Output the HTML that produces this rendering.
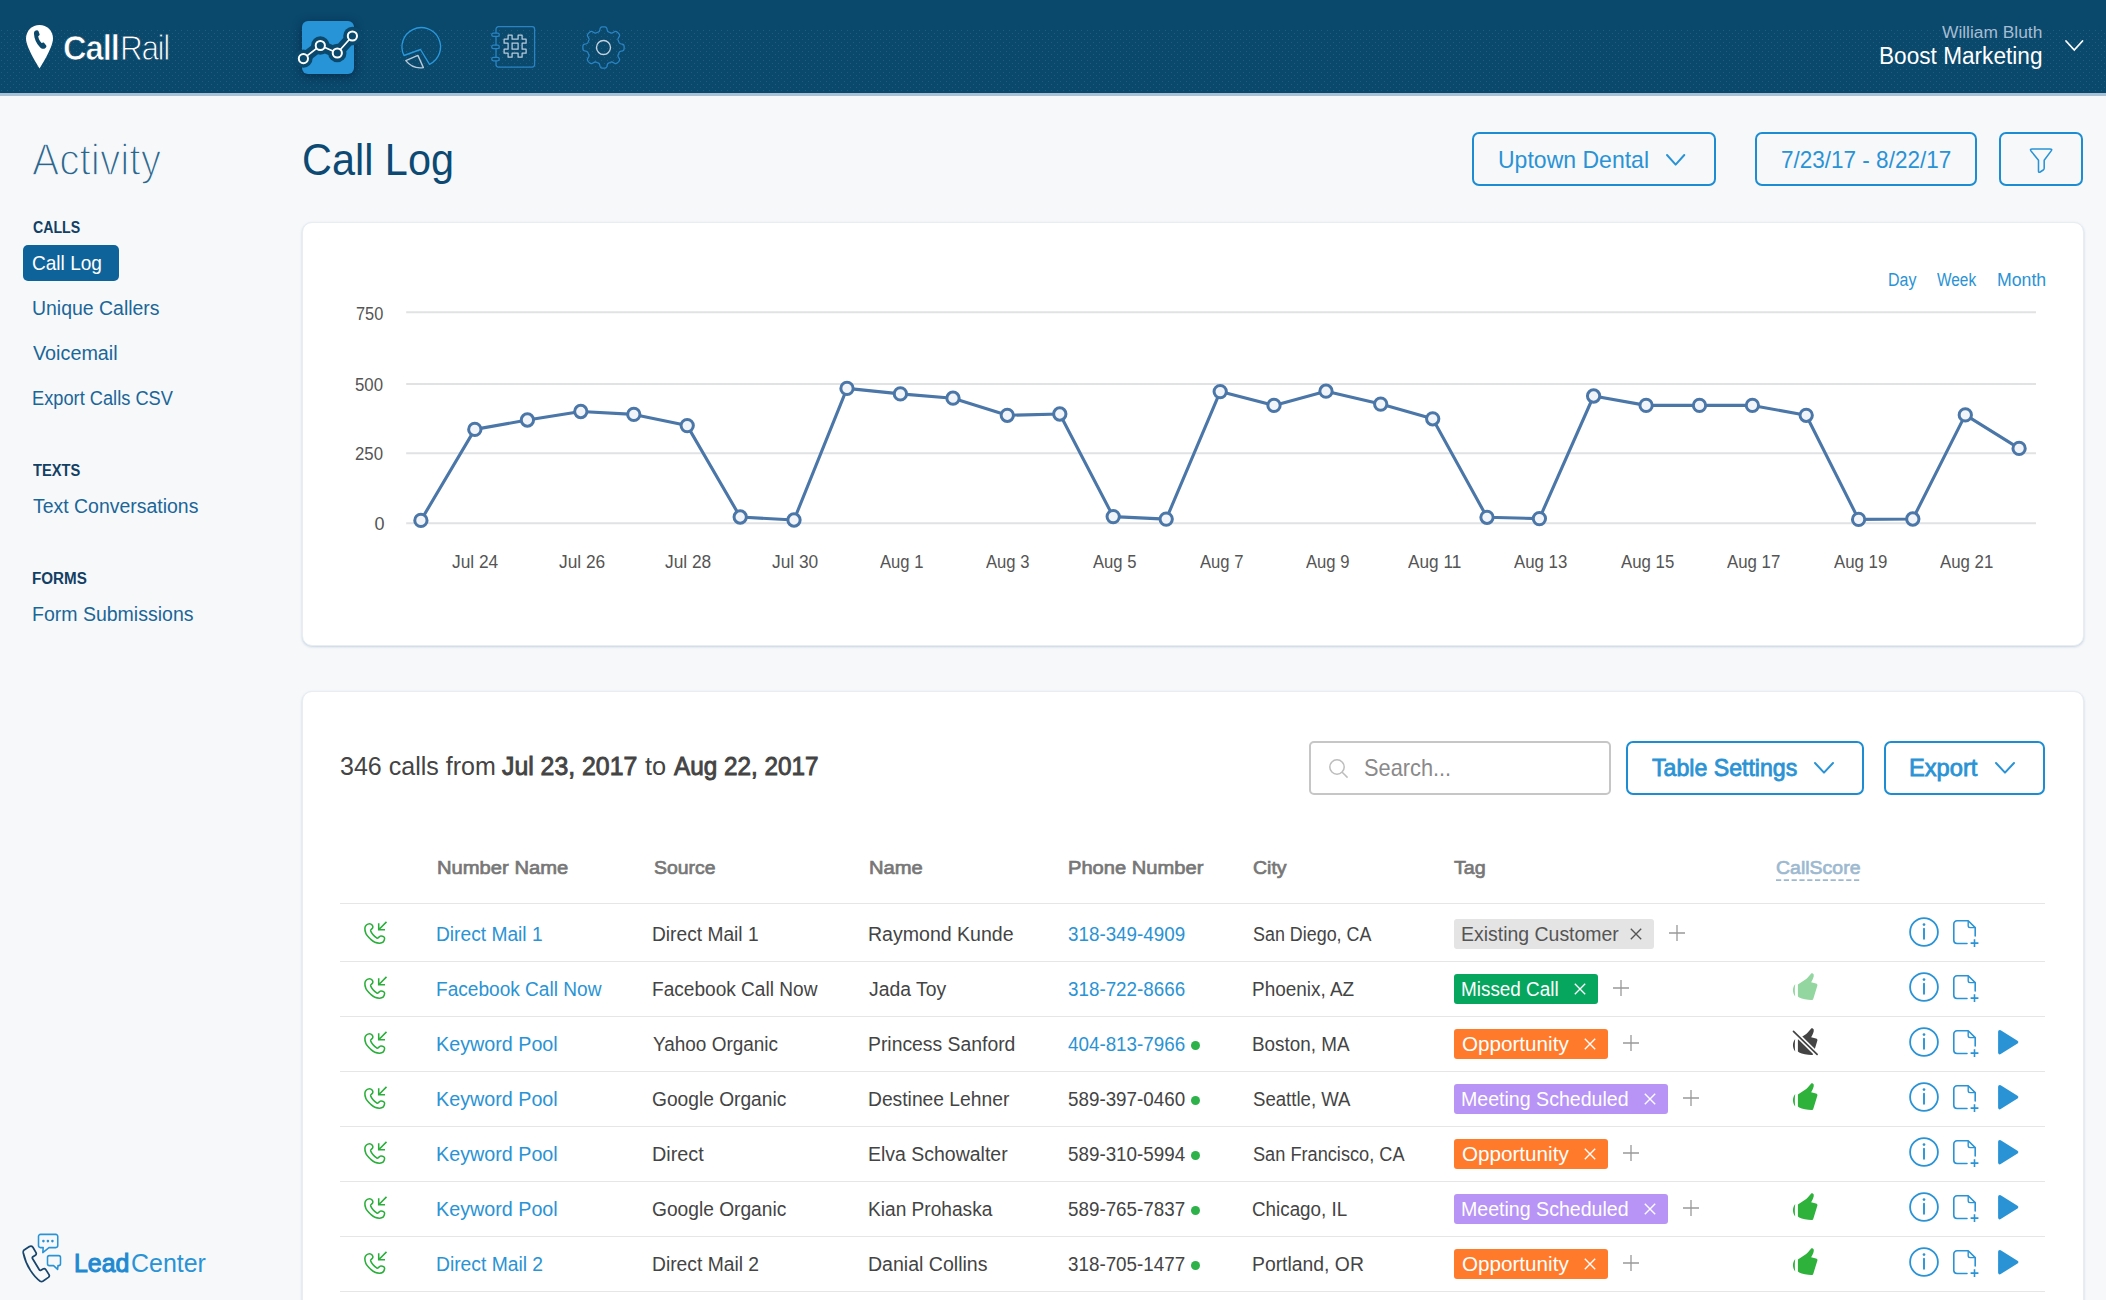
<!DOCTYPE html>
<html lang="en"><head><meta charset="utf-8"><title>Call Log - CallRail</title>
<style>
*{box-sizing:border-box}
html,body{margin:0;padding:0}
body{width:2106px;height:1300px;overflow:hidden;background:#f7f8fa;font-family:"Liberation Sans",sans-serif;color:#444;position:relative}
.t{position:absolute;white-space:nowrap;line-height:1;display:block;transform-origin:0 0}
.abs{position:absolute}
header{position:absolute;left:0;top:0;width:2106px;height:96px;background:#0a486c;border-bottom:3px solid #a9c1d4}
.tex{position:absolute;left:0;top:29px;width:2106px;height:64px;background:radial-gradient(circle at 1.5px 1.5px,rgba(160,200,230,.15) .3px,transparent .95px) 0 0/6px 6px,radial-gradient(circle at 1.5px 1.5px,rgba(160,200,230,.15) .3px,transparent .95px) 3px 3px/6px 6px}
aside{position:absolute;left:0;top:96px;width:290px;height:1204px}
main{position:absolute;left:0;top:0;width:2106px;height:1300px}
.card{position:absolute;background:#fff;border:1px solid #e7edf2;border-radius:10px;box-shadow:0 1px 2.5px rgba(125,160,190,.42)}
.btn{position:absolute;border:2px solid #1d8dd3;border-radius:7px;height:54px}
.pill{position:absolute;left:23px;top:245px;width:96px;height:36px;background:#0f639b;border-radius:5px}
.lk{color:#2a93d5} .sd{color:#1b6698} .sh{color:#123f63;font-weight:700} .th{color:#777}
.ax{color:#555}
.row{position:absolute;left:37px;width:1705px;height:55px;border-top:1px solid #e6e6e6}
.tag{position:absolute;height:30px;border-radius:3px}
.dot{position:absolute;width:9px;height:9px;border-radius:50%;background:#2db24a}
svg{position:absolute;overflow:visible}
</style></head>
<body>
<header>
<div class="tex"></div><svg style="left:26px;top:24.7px" width="27" height="44" viewBox="0 0 27 44" ><path d="M13.5,0C6,0 0,5.8 0,13.6C0,23 13.5,43.5 13.5,43.5C13.5,43.5 27,23 27,13.6C27,5.8 21,0 13.5,0Z" fill="#fff"/><path d="M9.2,5.8C10.4,4.8 12,5 12.4,6L13.6,9.2C13.8,10 13.2,10.6 12.2,11.2C12.6,13.8 13.8,16.2 15.6,18C16.6,17.4 17.6,17.2 18.2,17.9L20.2,20.4C20.8,21.4 20.2,22.6 18.8,23.4C17.2,24.3 15.4,23.6 14,22.2C10.4,18.6 8.2,13.6 8,9C7.9,7.6 8.3,6.5 9.2,5.8Z" fill="#0a486c"/></svg>
<span class="t" style="left:62.7px;top:31.0px;font-size:34.5px;letter-spacing:-1.09px;transform:scaleX(0.9459);font-weight:700;color:#fff;-webkit-text-stroke:0.7px #0a486c;">Call</span>
<span class="t" style="left:120.4px;top:31.0px;font-size:34.5px;letter-spacing:-1.54px;transform:scaleX(0.9171);color:#fff;-webkit-text-stroke:1.0px #0a486c;">Rail</span>
<div class="abs" style="left:302px;top:21px;width:52px;height:53px;border-radius:6px;background:#2794d7;box-shadow:0 2px 10px rgba(0,22,45,.55)"></div><svg style="left:0px;top:0px" width="700" height="96" viewBox="0 0 700 96" ><polyline points="303.4,58.6 320.3,45.5 337.3,53 352.4,36" fill="none" stroke="#0a486c" stroke-width="11" stroke-linecap="round" stroke-linejoin="round"/><circle cx="303.4" cy="58.6" r="9.2" fill="#0a486c"/><circle cx="320.3" cy="45.5" r="9.2" fill="#0a486c"/><circle cx="337.3" cy="53" r="9.2" fill="#0a486c"/><circle cx="352.4" cy="36" r="9.2" fill="#0a486c"/><polyline points="303.4,58.6 320.3,45.5 337.3,53 352.4,36" fill="none" stroke="#fff" stroke-width="1.7"/><circle cx="303.4" cy="58.6" r="4.6" fill="#0a486c" stroke="#fff" stroke-width="2"/><circle cx="320.3" cy="45.5" r="4.6" fill="#0a486c" stroke="#fff" stroke-width="2"/><circle cx="337.3" cy="53" r="4.6" fill="#0a486c" stroke="#fff" stroke-width="2"/><circle cx="352.4" cy="36" r="4.6" fill="#0a486c" stroke="#fff" stroke-width="2"/></svg><svg style="left:401px;top:27.3px" width="42" height="44" viewBox="0 0 42 44" ><path d="M19.5,22.5 L3,28.5 A19.3,19.3 0 1 1 28.5,37.3 Z" fill="none" stroke="#2a98dc" stroke-width="1.35" stroke-linejoin="round"/><path d="M16.9,28.4 L22.4,40.6 A19,19 0 0 1 4.8,33.6 Z" fill="none" stroke="#b9cbdb" stroke-width="1.35" stroke-linejoin="round"/></svg><svg style="left:491px;top:26.3px" width="45" height="43" viewBox="0 0 45 43" ><rect x="5" y="0.7" width="38.6" height="40.4" rx="2.5" fill="none" stroke="#2a84c4" stroke-width="1.3"/><rect x="0.7" y="7.0" width="7.6" height="3.4" rx="1.7" fill="#0a486c" stroke="#2a84c4" stroke-width="1.25"/><rect x="0.7" y="19.2" width="7.6" height="3.4" rx="1.7" fill="#0a486c" stroke="#2a84c4" stroke-width="1.25"/><rect x="0.7" y="31.4" width="7.6" height="3.4" rx="1.7" fill="#0a486c" stroke="#2a84c4" stroke-width="1.25"/><path d="M16.5,10.5h4v4h6v-4h4v4h4v4h-4v6h4v4h-4v4h-4v-4h-6v4h-4v-4h-4v-4h4v-6h-4v-4h4z M20.5,18.5v6h6v-6z" fill="none" stroke="#b9cbdb" stroke-width="1.25" stroke-linejoin="round" transform="translate(0.6,-1.3)"/></svg><svg style="left:581.9px;top:26px" width="43" height="43" viewBox="0 0 43 43" ><polygon points="21.50,0.85 22.04,0.86 22.58,0.90 23.12,0.97 23.64,1.10 24.15,1.35 24.61,1.87 24.97,2.78 25.23,3.93 25.50,4.85 25.82,5.39 26.18,5.70 26.57,5.90 26.96,6.07 27.36,6.23 27.76,6.39 28.15,6.56 28.55,6.73 28.95,6.89 29.37,7.01 29.84,7.06 30.45,6.90 31.28,6.44 32.28,5.81 33.18,5.42 33.87,5.38 34.41,5.56 34.88,5.84 35.31,6.17 35.71,6.52 36.10,6.90 36.48,7.29 36.83,7.69 37.16,8.12 37.44,8.59 37.62,9.13 37.58,9.82 37.19,10.72 36.56,11.72 36.10,12.55 35.94,13.16 35.99,13.63 36.11,14.05 36.27,14.45 36.44,14.85 36.61,15.24 36.77,15.64 36.93,16.04 37.10,16.43 37.30,16.82 37.61,17.18 38.15,17.50 39.07,17.77 40.22,18.03 41.13,18.39 41.65,18.85 41.90,19.36 42.03,19.88 42.10,20.42 42.14,20.96 42.15,21.50 42.14,22.04 42.10,22.58 42.03,23.12 41.90,23.64 41.65,24.15 41.13,24.61 40.22,24.97 39.07,25.23 38.15,25.50 37.61,25.82 37.30,26.18 37.10,26.57 36.93,26.96 36.77,27.36 36.61,27.76 36.44,28.15 36.27,28.55 36.11,28.95 35.99,29.37 35.94,29.84 36.10,30.45 36.56,31.28 37.19,32.28 37.58,33.18 37.62,33.87 37.44,34.41 37.16,34.88 36.83,35.31 36.48,35.71 36.10,36.10 35.71,36.48 35.31,36.83 34.88,37.16 34.41,37.44 33.87,37.62 33.18,37.58 32.28,37.19 31.28,36.56 30.45,36.10 29.84,35.94 29.37,35.99 28.95,36.11 28.55,36.27 28.15,36.44 27.76,36.61 27.36,36.77 26.96,36.93 26.57,37.10 26.18,37.30 25.82,37.61 25.50,38.15 25.23,39.07 24.97,40.22 24.61,41.13 24.15,41.65 23.64,41.90 23.12,42.03 22.58,42.10 22.04,42.14 21.50,42.15 20.96,42.14 20.42,42.10 19.88,42.03 19.36,41.90 18.85,41.65 18.39,41.13 18.03,40.22 17.77,39.07 17.50,38.15 17.18,37.61 16.82,37.30 16.43,37.10 16.04,36.93 15.64,36.77 15.24,36.61 14.85,36.44 14.45,36.27 14.05,36.11 13.63,35.99 13.16,35.94 12.55,36.10 11.72,36.56 10.72,37.19 9.82,37.58 9.13,37.62 8.59,37.44 8.12,37.16 7.69,36.83 7.29,36.48 6.90,36.10 6.52,35.71 6.17,35.31 5.84,34.88 5.56,34.41 5.38,33.87 5.42,33.18 5.81,32.28 6.44,31.28 6.90,30.45 7.06,29.84 7.01,29.37 6.89,28.95 6.73,28.55 6.56,28.15 6.39,27.76 6.23,27.36 6.07,26.96 5.90,26.57 5.70,26.18 5.39,25.82 4.85,25.50 3.93,25.23 2.78,24.97 1.87,24.61 1.35,24.15 1.10,23.64 0.97,23.12 0.90,22.58 0.86,22.04 0.85,21.50 0.86,20.96 0.90,20.42 0.97,19.88 1.10,19.36 1.35,18.85 1.87,18.39 2.78,18.03 3.93,17.77 4.85,17.50 5.39,17.18 5.70,16.82 5.90,16.43 6.07,16.04 6.23,15.64 6.39,15.24 6.56,14.85 6.73,14.45 6.89,14.05 7.01,13.63 7.06,13.16 6.90,12.55 6.44,11.72 5.81,10.72 5.42,9.82 5.38,9.13 5.56,8.59 5.84,8.12 6.17,7.69 6.52,7.29 6.90,6.90 7.29,6.52 7.69,6.17 8.12,5.84 8.59,5.56 9.13,5.38 9.82,5.42 10.72,5.81 11.72,6.44 12.55,6.90 13.16,7.06 13.63,7.01 14.05,6.89 14.45,6.73 14.85,6.56 15.24,6.39 15.64,6.23 16.04,6.07 16.43,5.90 16.82,5.70 17.18,5.39 17.50,4.85 17.77,3.93 18.03,2.78 18.39,1.87 18.85,1.35 19.36,1.10 19.88,0.97 20.42,0.90 20.96,0.86" fill="none" stroke="#2a84c4" stroke-width="1.3" stroke-linejoin="round"/><circle cx="21.5" cy="21.5" r="7" fill="none" stroke="#c3d2df" stroke-width="1.4"/></svg>
<span class="t" style="left:1941.9px;top:23.9px;font-size:17.3px;transform:scaleX(1.0045);color:#a5bdd2;">William Bluth</span>
<span class="t" style="left:1879.3px;top:44.8px;font-size:23px;transform:scaleX(0.9836);color:#fff;">Boost Marketing</span><svg style="left:2066px;top:41px" width="16.5" height="9" viewBox="0 0 16.5 9" ><polyline points="0,0 8.25,9 16.5,0" fill="none" stroke="#fff" stroke-width="1.8" stroke-linecap="round" stroke-linejoin="round"/></svg></header><aside>
<span class="t" style="left:31.6px;top:43.0px;font-size:43.6px;transform:scaleX(0.9344);color:#2b658c;-webkit-text-stroke:1.5px #f7f8fa;">Activity</span>
<span class="t sh" style="left:32.5px;top:123.3px;font-size:17.4px;transform:scaleX(0.8141);font-weight:700;">CALLS</span>
<div class="pill" style="top:149px"></div>
<span class="t" style="left:31.6px;top:157.0px;font-size:20.4px;transform:scaleX(0.9351);color:#fff;">Call Log</span>
<span class="t sd" style="left:31.7px;top:202.1px;font-size:20px;transform:scaleX(0.9726);">Unique Callers</span>
<span class="t sd" style="left:32.7px;top:246.8px;font-size:20px;transform:scaleX(0.9888);">Voicemail</span>
<span class="t sd" style="left:31.8px;top:291.8px;font-size:20px;transform:scaleX(0.9121);">Export Calls CSV</span>
<span class="t sh" style="left:32.7px;top:365.8px;font-size:17.4px;transform:scaleX(0.8441);font-weight:700;">TEXTS</span>
<span class="t sd" style="left:32.7px;top:399.9px;font-size:20px;transform:scaleX(0.9725);">Text Conversations</span>
<span class="t sh" style="left:31.8px;top:473.9px;font-size:17.4px;transform:scaleX(0.8742);font-weight:700;">FORMS</span>
<span class="t sd" style="left:31.7px;top:507.5px;font-size:20px;transform:scaleX(0.9751);">Form Submissions</span><svg style="left:22.1px;top:1137.2px" width="42" height="52" viewBox="0 0 42 52" ><path d="M1.75,17.3L7.4,13.6Q9.5,12.6 10.9,14.3L14,19.6Q14.8,21.3 13.4,22.2L10.9,23.8Q10,24.5 10.5,25.5L17.3,36.8Q17.9,37.8 18.9,37.3L21,36Q22.6,35.2 23.8,36.6L27,41.6Q27.9,43.2 26.4,44.4L20.8,48.2Q19.6,48.9 18.2,48.2C12,44 4,33 1.3,20Q1,18 1.75,17.3Z" fill="none" stroke="#17456d" stroke-width="1.75" stroke-linejoin="round"/><path d="M18.5,1.35H33.75A2,2 0 0 1 35.75,3.35V12.6A2,2 0 0 1 33.75,14.6H27L20.8,19.6L21.2,14.6H18.5A2,2 0 0 1 16.5,12.6V3.35A2,2 0 0 1 18.5,1.35Z" fill="none" stroke="#2a93d5" stroke-width="1.55" stroke-linejoin="round"/><circle cx="21.4" cy="8.1" r="1.3" fill="#2a93d5"/><circle cx="25.9" cy="8.1" r="1.3" fill="#2a93d5"/><circle cx="30.4" cy="8.1" r="1.3" fill="#2a93d5"/><path d="M27.3,22.6H36.7A1.8,1.8 0 0 1 38.5,24.4V30.8A1.8,1.8 0 0 1 36.7,32.6H36L35.6,36.4L31.6,32.6H27.3A1.8,1.8 0 0 1 25.5,30.8V24.4A1.8,1.8 0 0 1 27.3,22.6Z" fill="none" stroke="#2a93d5" stroke-width="1.55" stroke-linejoin="round"/></svg>
<span class="t" style="left:74.1px;top:1153.6px;font-size:26.4px;transform:scaleX(0.9413);color:#2089d1;-webkit-text-stroke:1.1px currentColor;">Lead</span>
<span class="t" style="left:130.7px;top:1153.6px;font-size:26.4px;transform:scaleX(0.9449);color:#2a93d5;">Center</span></aside><main><h1 style="margin:0;font-weight:400">
<span class="t" style="left:301.9px;top:137.5px;font-size:44.6px;transform:scaleX(0.9288);color:#0d4a73;">Call Log</span></h1>
<div class="btn" style="left:1472px;top:132px;width:244px"></div>
<span class="t lk" style="left:1497.6px;top:149.0px;font-size:23.6px;transform:scaleX(0.9757);">Uptown Dental</span><svg style="left:1666.5px;top:155px" width="17.3" height="9.6" viewBox="0 0 17.3 9.6" ><polyline points="0,0 8.65,9.6 17.3,0" fill="none" stroke="#2a93d5" stroke-width="2" stroke-linecap="round" stroke-linejoin="round"/></svg>
<div class="btn" style="left:1755px;top:132px;width:222px"></div>
<span class="t lk" style="left:1780.6px;top:149.0px;font-size:23.6px;transform:scaleX(0.9541);">7/23/17 - 8/22/17</span>
<div class="btn" style="left:1999px;top:132px;width:84px"></div><svg style="left:2029.5px;top:148px" width="22.2" height="25.5" viewBox="0 0 22.2 25.5" ><path d="M2.2,1H20Q22.6,1 21.2,2.9L14.2,12.2V20.2Q14.2,21.3 13.2,22L10.2,24Q8.5,24.9 8.5,23.2V12.2L1,2.9Q-0.4,1 2.2,1Z" fill="none" stroke="#2a93d5" stroke-width="1.55" stroke-linejoin="round"/></svg>
<section class="card" style="left:302px;top:222px;width:1782px;height:424px">
<span class="t lk" style="left:1585.4px;top:48.0px;font-size:18px;transform:scaleX(0.8868);">Day</span>
<span class="t lk" style="left:1633.9px;top:48.0px;font-size:18px;transform:scaleX(0.8568);">Week</span>
<span class="t lk" style="left:1693.7px;top:48.0px;font-size:18px;transform:scaleX(0.9830);">Month</span><svg style="left:0px;top:0px" width="1779" height="422" viewBox="0 0 1779 422" ><line x1="103.19999999999999" x2="1733" y1="89.2" y2="89.2" stroke="#e1e2e3" stroke-width="2"/><line x1="103.19999999999999" x2="1733" y1="161.0" y2="161.0" stroke="#e1e2e3" stroke-width="2"/><line x1="103.19999999999999" x2="1733" y1="230.2" y2="230.2" stroke="#e1e2e3" stroke-width="2"/><line x1="103.19999999999999" x2="1733" y1="300.2" y2="300.2" stroke="#e1e2e3" stroke-width="2"/><polyline points="117.9,297.4 171.8,206.4 224.4,197.0 277.8,188.5 330.8,191.4 384.2,202.6 437.2,294.0 491.0,297.0 544.0,165.4 597.4,170.9 650.0,175.2 704.3,192.3 756.8,191.0 810.2,293.6 863.2,296.1 917.2,168.6 971.0,182.4 1023.0,168.2 1077.7,181.1 1129.7,195.8 1184.0,294.3 1236.4,295.6 1290.6,173.0 1343.1,182.4 1396.5,182.4 1449.4,182.4 1503.2,192.3 1555.6,296.4 1609.8,296.0 1662.3,191.9 1716.1,225.4" fill="none" stroke="#4a76a8" stroke-width="3.1" stroke-linejoin="round" stroke-linecap="round"/><circle cx="117.9" cy="297.4" r="6.15" fill="#f1f4f8" stroke="#4a76a8" stroke-width="3"/><circle cx="171.8" cy="206.4" r="6.15" fill="#f1f4f8" stroke="#4a76a8" stroke-width="3"/><circle cx="224.4" cy="197.0" r="6.15" fill="#f1f4f8" stroke="#4a76a8" stroke-width="3"/><circle cx="277.8" cy="188.5" r="6.15" fill="#f1f4f8" stroke="#4a76a8" stroke-width="3"/><circle cx="330.8" cy="191.4" r="6.15" fill="#f1f4f8" stroke="#4a76a8" stroke-width="3"/><circle cx="384.2" cy="202.6" r="6.15" fill="#f1f4f8" stroke="#4a76a8" stroke-width="3"/><circle cx="437.2" cy="294.0" r="6.15" fill="#f1f4f8" stroke="#4a76a8" stroke-width="3"/><circle cx="491.0" cy="297.0" r="6.15" fill="#f1f4f8" stroke="#4a76a8" stroke-width="3"/><circle cx="544.0" cy="165.4" r="6.15" fill="#f1f4f8" stroke="#4a76a8" stroke-width="3"/><circle cx="597.4" cy="170.9" r="6.15" fill="#f1f4f8" stroke="#4a76a8" stroke-width="3"/><circle cx="650.0" cy="175.2" r="6.15" fill="#f1f4f8" stroke="#4a76a8" stroke-width="3"/><circle cx="704.3" cy="192.3" r="6.15" fill="#f1f4f8" stroke="#4a76a8" stroke-width="3"/><circle cx="756.8" cy="191.0" r="6.15" fill="#f1f4f8" stroke="#4a76a8" stroke-width="3"/><circle cx="810.2" cy="293.6" r="6.15" fill="#f1f4f8" stroke="#4a76a8" stroke-width="3"/><circle cx="863.2" cy="296.1" r="6.15" fill="#f1f4f8" stroke="#4a76a8" stroke-width="3"/><circle cx="917.2" cy="168.6" r="6.15" fill="#f1f4f8" stroke="#4a76a8" stroke-width="3"/><circle cx="971.0" cy="182.4" r="6.15" fill="#f1f4f8" stroke="#4a76a8" stroke-width="3"/><circle cx="1023.0" cy="168.2" r="6.15" fill="#f1f4f8" stroke="#4a76a8" stroke-width="3"/><circle cx="1077.7" cy="181.1" r="6.15" fill="#f1f4f8" stroke="#4a76a8" stroke-width="3"/><circle cx="1129.7" cy="195.8" r="6.15" fill="#f1f4f8" stroke="#4a76a8" stroke-width="3"/><circle cx="1184.0" cy="294.3" r="6.15" fill="#f1f4f8" stroke="#4a76a8" stroke-width="3"/><circle cx="1236.4" cy="295.6" r="6.15" fill="#f1f4f8" stroke="#4a76a8" stroke-width="3"/><circle cx="1290.6" cy="173.0" r="6.15" fill="#f1f4f8" stroke="#4a76a8" stroke-width="3"/><circle cx="1343.1" cy="182.4" r="6.15" fill="#f1f4f8" stroke="#4a76a8" stroke-width="3"/><circle cx="1396.5" cy="182.4" r="6.15" fill="#f1f4f8" stroke="#4a76a8" stroke-width="3"/><circle cx="1449.4" cy="182.4" r="6.15" fill="#f1f4f8" stroke="#4a76a8" stroke-width="3"/><circle cx="1503.2" cy="192.3" r="6.15" fill="#f1f4f8" stroke="#4a76a8" stroke-width="3"/><circle cx="1555.6" cy="296.4" r="6.15" fill="#f1f4f8" stroke="#4a76a8" stroke-width="3"/><circle cx="1609.8" cy="296.0" r="6.15" fill="#f1f4f8" stroke="#4a76a8" stroke-width="3"/><circle cx="1662.3" cy="191.9" r="6.15" fill="#f1f4f8" stroke="#4a76a8" stroke-width="3"/><circle cx="1716.1" cy="225.4" r="6.15" fill="#f1f4f8" stroke="#4a76a8" stroke-width="3"/></svg>
<span class="t ax" style="left:52.8px;top:82.0px;font-size:18px;transform:scaleX(0.9077);">750</span>
<span class="t ax" style="left:52.0px;top:152.6px;font-size:18px;transform:scaleX(0.9327);">500</span>
<span class="t ax" style="left:52.0px;top:222.0px;font-size:18px;transform:scaleX(0.9327);">250</span>
<span class="t ax" style="left:71.5px;top:291.5px;font-size:18px;">0</span>
<span class="t ax" style="left:149.3px;top:330.0px;font-size:18px;transform:scaleX(0.9631);">Jul 24</span>
<span class="t ax" style="left:255.8px;top:330.0px;font-size:18px;transform:scaleX(0.9631);">Jul 26</span>
<span class="t ax" style="left:362.4px;top:330.0px;font-size:18px;transform:scaleX(0.9631);">Jul 28</span>
<span class="t ax" style="left:468.9px;top:330.0px;font-size:18px;transform:scaleX(0.9631);">Jul 30</span>
<span class="t ax" style="left:576.8px;top:330.0px;font-size:18px;transform:scaleX(0.9250);">Aug 1</span>
<span class="t ax" style="left:683.4px;top:330.0px;font-size:18px;transform:scaleX(0.9250);">Aug 3</span>
<span class="t ax" style="left:789.9px;top:330.0px;font-size:18px;transform:scaleX(0.9250);">Aug 5</span>
<span class="t ax" style="left:896.5px;top:330.0px;font-size:18px;transform:scaleX(0.9250);">Aug 7</span>
<span class="t ax" style="left:1003.0px;top:330.0px;font-size:18px;transform:scaleX(0.9250);">Aug 9</span>
<span class="t ax" style="left:1104.7px;top:330.0px;font-size:18px;transform:scaleX(0.9569);">Aug 11</span>
<span class="t ax" style="left:1211.2px;top:330.0px;font-size:18px;transform:scaleX(0.9344);">Aug 13</span>
<span class="t ax" style="left:1317.8px;top:330.0px;font-size:18px;transform:scaleX(0.9344);">Aug 15</span>
<span class="t ax" style="left:1424.3px;top:330.0px;font-size:18px;transform:scaleX(0.9344);">Aug 17</span>
<span class="t ax" style="left:1530.9px;top:330.0px;font-size:18px;transform:scaleX(0.9344);">Aug 19</span>
<span class="t ax" style="left:1637.4px;top:330.0px;font-size:18px;transform:scaleX(0.9344);">Aug 21</span></section>
<section class="card" style="left:302px;top:691px;width:1782px;height:640px">
<div class="abs" style="left:0;top:0">
<span class="t" style="left:37.1px;top:61.0px;font-size:26px;transform:scaleX(0.9633);">346 calls from</span>
<span class="t" style="left:199.2px;top:61.0px;font-size:26px;transform:scaleX(0.9546);-webkit-text-stroke:0.9px currentColor;">Jul 23, 2017</span>
<span class="t" style="left:342.0px;top:61.0px;font-size:26px;transform:scaleX(0.9753);">to</span>
<span class="t" style="left:370.5px;top:61.0px;font-size:26px;transform:scaleX(0.9343);-webkit-text-stroke:0.9px currentColor;">Aug 22, 2017</span></div>
<div class="abs" style="left:1006px;top:49px;width:302px;height:54px;border:2px solid #c6c6c6;border-radius:5px"></div><svg style="left:1025.5px;top:66.5px" width="20" height="20" viewBox="0 0 20 20" ><circle cx="8" cy="8" r="7.2" fill="none" stroke="#bdbdbd" stroke-width="1.5"/><path d="M13.2,13.2L18.6,18.6" stroke="#bdbdbd" stroke-width="1.5"/></svg>
<span class="t" style="left:1060.9px;top:65.2px;font-size:23.6px;transform:scaleX(0.9231);color:#8a8a8a;">Search...</span>
<div class="btn" style="left:1323px;top:49px;width:238px"></div>
<span class="t lk" style="left:1348.9px;top:65.4px;font-size:23.6px;transform:scaleX(0.9802);-webkit-text-stroke:0.8px currentColor;">Table Settings</span><svg style="left:1512px;top:71px" width="18" height="9.6" viewBox="0 0 18 9.6" ><polyline points="0,0 9.0,9.6 18,0" fill="none" stroke="#2a93d5" stroke-width="2" stroke-linecap="round" stroke-linejoin="round"/></svg>
<div class="btn" style="left:1581px;top:49px;width:161px"></div>
<span class="t lk" style="left:1605.9px;top:65.4px;font-size:23.6px;transform:scaleX(1.0025);-webkit-text-stroke:0.8px currentColor;">Export</span><svg style="left:1693px;top:71px" width="18" height="9.6" viewBox="0 0 18 9.6" ><polyline points="0,0 9.0,9.6 18,0" fill="none" stroke="#2a93d5" stroke-width="2" stroke-linecap="round" stroke-linejoin="round"/></svg>
<span class="t th" style="left:133.9px;top:165.8px;font-size:19.2px;transform:scaleX(1.0521);-webkit-text-stroke:0.7px currentColor;">Number Name</span>
<span class="t th" style="left:351.2px;top:165.8px;font-size:19.2px;transform:scaleX(1.0104);-webkit-text-stroke:0.7px currentColor;">Source</span>
<span class="t th" style="left:565.7px;top:165.8px;font-size:19.2px;transform:scaleX(1.0503);-webkit-text-stroke:0.7px currentColor;">Name</span>
<span class="t th" style="left:765.0px;top:165.8px;font-size:19.2px;transform:scaleX(1.0492);-webkit-text-stroke:0.7px currentColor;">Phone Number</span>
<span class="t th" style="left:950.0px;top:165.8px;font-size:19.2px;transform:scaleX(1.0164);-webkit-text-stroke:0.7px currentColor;">City</span>
<span class="t th" style="left:1151.2px;top:165.8px;font-size:19.2px;transform:scaleX(1.0243);-webkit-text-stroke:0.7px currentColor;">Tag</span>
<span class="t" style="left:1473.0px;top:165.8px;font-size:19.2px;transform:scaleX(1.0157);color:#9db9d0;-webkit-text-stroke:0.7px currentColor;">CallScore</span><svg style="left:1473px;top:187px" width="84" height="3" viewBox="0 0 84 3" ><line x1="0" y1="1.2" x2="84" y2="1.2" stroke="#9db9d0" stroke-width="1.8" stroke-dasharray="5.2 2.6"/></svg>
<div class="row" style="top:211.0px"><svg style="left:24px;top:16.899999999999977px" width="24" height="24" viewBox="0 0 24 24" ><path d="M5.6,2.7C7.5,2.7 9.3,4.8 8.8,6.5C8.5,8 6.3,8.6 6.6,9.8C7.5,12.5 10.5,15.5 13,17.2C14.2,17.8 15,15.2 16.8,15C18.8,14.8 20.8,16.2 20.6,17.7C20.2,20.5 18,22.3 15.4,22.2C12,22.1 9,20.5 6.8,18.4C4.5,16.2 2.7,14.5 1.9,12.5C1.2,10.8 0.7,9 0.9,7C1.1,4.8 3.2,2.7 5.6,2.7Z" fill="none" stroke="#2aae3a" stroke-width="1.55" stroke-linejoin="round"/><path d="M22.5,0.9L14.7,8.7M14.7,2.3V8.7H21" fill="none" stroke="#2aae3a" stroke-width="1.55"/></svg>
<span class="t lk" style="left:96.4px;top:19.8px;font-size:20px;transform:scaleX(0.9590);">Direct Mail 1</span>
<span class="t" style="left:312.3px;top:19.8px;font-size:20px;transform:scaleX(0.9590);">Direct Mail 1</span>
<span class="t" style="left:528.2px;top:19.8px;font-size:20px;transform:scaleX(0.9773);">Raymond Kunde</span>
<span class="t lk" style="left:727.8px;top:19.8px;font-size:20px;transform:scaleX(0.9403);">318-349-4909</span>
<span class="t" style="left:912.6px;top:19.8px;font-size:20px;transform:scaleX(0.8950);">San Diego, CA</span>
<span class="tag" style="left:1114.2px;top:15.1px;width:199.7px;background:#e4e4e4"></span>
<span class="t" style="left:1121.1px;top:20.1px;font-size:20px;transform:scaleX(0.9727);color:#555;">Existing Customer</span><svg style="left:1289.9px;top:23.59999999999991px" width="12" height="12" viewBox="0 0 12 12" ><path d="M0.8,0.8L11.2,11.2M11.2,0.8L0.8,11.2" stroke="#555" stroke-width="1.35"/></svg><svg style="left:1329.4px;top:21.0px" width="16" height="16" viewBox="0 0 16 16" ><path d="M8,0V16M0,8H16" stroke="#999" stroke-width="1.3"/></svg><svg style="left:1568.8px;top:12.799999999999955px" width="30" height="30" viewBox="0 0 30 30" ><circle cx="15" cy="15" r="13.9" fill="none" stroke="#2a93d5" stroke-width="1.8"/><circle cx="15" cy="7.6" r="1.35" fill="#2a93d5"/><path d="M15,11.6V21.7" stroke="#2a93d5" stroke-width="1.9" stroke-linecap="round"/></svg><svg style="left:1613px;top:16.09999999999991px" width="26" height="28" viewBox="0 0 26 28" ><path d="M14,23.5H4A3.2,3.2 0 0 1 0.8,20.3V4A3.2,3.2 0 0 1 4,0.8H15.2L22.2,7.6V16" fill="none" stroke="#2a93d5" stroke-width="1.6" stroke-linecap="round" stroke-linejoin="round"/><path d="M15.2,0.8V5.8A1.8,1.8 0 0 0 17,7.6H22.2" fill="none" stroke="#2a93d5" stroke-width="1.4" stroke-linejoin="round"/><path d="M21.5,19.2V27M17.6,23.1H25.4" stroke="#2a93d5" stroke-width="1.6"/></svg></div>
<div class="row" style="top:269.0px"><svg style="left:24px;top:13.899999999999977px" width="24" height="24" viewBox="0 0 24 24" ><path d="M5.6,2.7C7.5,2.7 9.3,4.8 8.8,6.5C8.5,8 6.3,8.6 6.6,9.8C7.5,12.5 10.5,15.5 13,17.2C14.2,17.8 15,15.2 16.8,15C18.8,14.8 20.8,16.2 20.6,17.7C20.2,20.5 18,22.3 15.4,22.2C12,22.1 9,20.5 6.8,18.4C4.5,16.2 2.7,14.5 1.9,12.5C1.2,10.8 0.7,9 0.9,7C1.1,4.8 3.2,2.7 5.6,2.7Z" fill="none" stroke="#2aae3a" stroke-width="1.55" stroke-linejoin="round"/><path d="M22.5,0.9L14.7,8.7M14.7,2.3V8.7H21" fill="none" stroke="#2aae3a" stroke-width="1.55"/></svg>
<span class="t lk" style="left:96.4px;top:16.8px;font-size:20px;transform:scaleX(0.9540);">Facebook Call Now</span>
<span class="t" style="left:312.3px;top:16.8px;font-size:20px;transform:scaleX(0.9540);">Facebook Call Now</span>
<span class="t" style="left:529.2px;top:16.8px;font-size:20px;transform:scaleX(0.9682);">Jada Toy</span>
<span class="t lk" style="left:727.8px;top:16.8px;font-size:20px;transform:scaleX(0.9403);">318-722-8666</span>
<span class="t" style="left:911.7px;top:16.8px;font-size:20px;transform:scaleX(0.9468);">Phoenix, AZ</span>
<span class="tag" style="left:1114.2px;top:12.1px;width:143.7px;background:#06a65f"></span>
<span class="t" style="left:1121.2px;top:17.1px;font-size:20px;transform:scaleX(0.9449);color:#fff;">Missed Call</span><svg style="left:1233.9px;top:20.59999999999991px" width="12" height="12" viewBox="0 0 12 12" ><path d="M0.8,0.8L11.2,11.2M11.2,0.8L0.8,11.2" stroke="#fff" stroke-width="1.35"/></svg><svg style="left:1273.4px;top:18.0px" width="16" height="16" viewBox="0 0 16 16" ><path d="M8,0V16M0,8H16" stroke="#999" stroke-width="1.3"/></svg><svg style="left:1453.2px;top:11.399999999999977px" width="25" height="28" viewBox="0 0 25 28" ><path d="M2.2,11.1C-0.8,14.8 -0.8,19.8 2.2,23.4C1.7,19.5 1.7,15 2.2,11.1Z" fill="#93d6a0"/><path d="M4.9,11.6L13.2,5.9C15.5,4.2 17,1.8 18,0.7C18.9,-0.3 20.2,0.3 20.7,1.6C21.2,3.6 19.8,6.6 18.1,9.3L23,10.5C24,10.8 24.6,11.5 24.4,12.4L20.4,25.4C20,26.5 19.4,27 18.4,26.9C14.5,26.7 9,26 6.2,24.4C5.3,23.9 4.9,23.6 4.9,23.2Z" fill="#93d6a0"/></svg><svg style="left:1568.8px;top:9.799999999999955px" width="30" height="30" viewBox="0 0 30 30" ><circle cx="15" cy="15" r="13.9" fill="none" stroke="#2a93d5" stroke-width="1.8"/><circle cx="15" cy="7.6" r="1.35" fill="#2a93d5"/><path d="M15,11.6V21.7" stroke="#2a93d5" stroke-width="1.9" stroke-linecap="round"/></svg><svg style="left:1613px;top:13.099999999999909px" width="26" height="28" viewBox="0 0 26 28" ><path d="M14,23.5H4A3.2,3.2 0 0 1 0.8,20.3V4A3.2,3.2 0 0 1 4,0.8H15.2L22.2,7.6V16" fill="none" stroke="#2a93d5" stroke-width="1.6" stroke-linecap="round" stroke-linejoin="round"/><path d="M15.2,0.8V5.8A1.8,1.8 0 0 0 17,7.6H22.2" fill="none" stroke="#2a93d5" stroke-width="1.4" stroke-linejoin="round"/><path d="M21.5,19.2V27M17.6,23.1H25.4" stroke="#2a93d5" stroke-width="1.6"/></svg></div>
<div class="row" style="top:324.0px"><svg style="left:24px;top:13.899999999999864px" width="24" height="24" viewBox="0 0 24 24" ><path d="M5.6,2.7C7.5,2.7 9.3,4.8 8.8,6.5C8.5,8 6.3,8.6 6.6,9.8C7.5,12.5 10.5,15.5 13,17.2C14.2,17.8 15,15.2 16.8,15C18.8,14.8 20.8,16.2 20.6,17.7C20.2,20.5 18,22.3 15.4,22.2C12,22.1 9,20.5 6.8,18.4C4.5,16.2 2.7,14.5 1.9,12.5C1.2,10.8 0.7,9 0.9,7C1.1,4.8 3.2,2.7 5.6,2.7Z" fill="none" stroke="#2aae3a" stroke-width="1.55" stroke-linejoin="round"/><path d="M22.5,0.9L14.7,8.7M14.7,2.3V8.7H21" fill="none" stroke="#2aae3a" stroke-width="1.55"/></svg>
<span class="t lk" style="left:96.4px;top:16.8px;font-size:20px;transform:scaleX(0.9864);">Keyword Pool</span>
<span class="t" style="left:313.3px;top:16.8px;font-size:20px;transform:scaleX(0.9474);">Yahoo Organic</span>
<span class="t" style="left:528.2px;top:16.8px;font-size:20px;transform:scaleX(0.9676);">Princess Sanford</span>
<span class="t lk" style="left:727.8px;top:16.8px;font-size:20px;transform:scaleX(0.9403);">404-813-7966</span><i class="dot" style="left:851.2px;top:23.5px"></i>
<span class="t" style="left:911.7px;top:16.8px;font-size:20px;transform:scaleX(0.9433);">Boston, MA</span>
<span class="tag" style="left:1114.2px;top:12.1px;width:153.5px;background:#ff7b2b"></span>
<span class="t" style="left:1122.1px;top:17.1px;font-size:20px;transform:scaleX(1.0320);color:#fff;">Opportunity</span><svg style="left:1243.7px;top:20.59999999999991px" width="12" height="12" viewBox="0 0 12 12" ><path d="M0.8,0.8L11.2,11.2M11.2,0.8L0.8,11.2" stroke="#fff" stroke-width="1.35"/></svg><svg style="left:1283.2px;top:18.0px" width="16" height="16" viewBox="0 0 16 16" ><path d="M8,0V16M0,8H16" stroke="#999" stroke-width="1.3"/></svg><svg style="left:1453.2px;top:11.399999999999864px" width="25" height="28" viewBox="0 0 25 28" ><path d="M2.2,11.1C-0.8,14.8 -0.8,19.8 2.2,23.4C1.7,19.5 1.7,15 2.2,11.1Z" fill="#444"/><path d="M4.9,11.6L13.2,5.9C15.5,4.2 17,1.8 18,0.7C18.9,-0.3 20.2,0.3 20.7,1.6C21.2,3.6 19.8,6.6 18.1,9.3L23,10.5C24,10.8 24.6,11.5 24.4,12.4L20.4,25.4C20,26.5 19.4,27 18.4,26.9C14.5,26.7 9,26 6.2,24.4C5.3,23.9 4.9,23.6 4.9,23.2Z" fill="#444"/><path d="M-0.5,2.3L25.1,27.4" stroke="#fff" stroke-width="4.9"/><path d="M0.5,3.3L24.1,26.4" stroke="#444" stroke-width="1.7" stroke-linecap="round"/></svg><svg style="left:1568.8px;top:9.799999999999955px" width="30" height="30" viewBox="0 0 30 30" ><circle cx="15" cy="15" r="13.9" fill="none" stroke="#2a93d5" stroke-width="1.8"/><circle cx="15" cy="7.6" r="1.35" fill="#2a93d5"/><path d="M15,11.6V21.7" stroke="#2a93d5" stroke-width="1.9" stroke-linecap="round"/></svg><svg style="left:1613px;top:13.099999999999909px" width="26" height="28" viewBox="0 0 26 28" ><path d="M14,23.5H4A3.2,3.2 0 0 1 0.8,20.3V4A3.2,3.2 0 0 1 4,0.8H15.2L22.2,7.6V16" fill="none" stroke="#2a93d5" stroke-width="1.6" stroke-linecap="round" stroke-linejoin="round"/><path d="M15.2,0.8V5.8A1.8,1.8 0 0 0 17,7.6H22.2" fill="none" stroke="#2a93d5" stroke-width="1.4" stroke-linejoin="round"/><path d="M21.5,19.2V27M17.6,23.1H25.4" stroke="#2a93d5" stroke-width="1.6"/></svg><svg style="left:1657.8px;top:12.700000000000045px" width="21" height="25" viewBox="0 0 21 25" ><path d="M1.8,1.8L18.6,12.1L1.8,22.6Z" fill="#2a93d5" stroke="#2a93d5" stroke-width="3.4" stroke-linejoin="round"/></svg></div>
<div class="row" style="top:379.0px"><svg style="left:24px;top:13.899999999999864px" width="24" height="24" viewBox="0 0 24 24" ><path d="M5.6,2.7C7.5,2.7 9.3,4.8 8.8,6.5C8.5,8 6.3,8.6 6.6,9.8C7.5,12.5 10.5,15.5 13,17.2C14.2,17.8 15,15.2 16.8,15C18.8,14.8 20.8,16.2 20.6,17.7C20.2,20.5 18,22.3 15.4,22.2C12,22.1 9,20.5 6.8,18.4C4.5,16.2 2.7,14.5 1.9,12.5C1.2,10.8 0.7,9 0.9,7C1.1,4.8 3.2,2.7 5.6,2.7Z" fill="none" stroke="#2aae3a" stroke-width="1.55" stroke-linejoin="round"/><path d="M22.5,0.9L14.7,8.7M14.7,2.3V8.7H21" fill="none" stroke="#2aae3a" stroke-width="1.55"/></svg>
<span class="t lk" style="left:96.4px;top:16.8px;font-size:20px;transform:scaleX(0.9864);">Keyword Pool</span>
<span class="t" style="left:312.3px;top:16.8px;font-size:20px;transform:scaleX(0.9585);">Google Organic</span>
<span class="t" style="left:528.2px;top:16.8px;font-size:20px;transform:scaleX(0.9630);">Destinee Lehner</span>
<span class="t" style="left:727.8px;top:16.8px;font-size:20px;transform:scaleX(0.9403);">589-397-0460</span><i class="dot" style="left:851.2px;top:23.5px"></i>
<span class="t" style="left:912.6px;top:16.8px;font-size:20px;transform:scaleX(0.9297);">Seattle, WA</span>
<span class="tag" style="left:1114.2px;top:12.1px;width:213.6px;background:#b794f6"></span>
<span class="t" style="left:1121.1px;top:17.1px;font-size:20px;transform:scaleX(0.9787);color:#fff;">Meeting Scheduled</span><svg style="left:1303.8px;top:20.59999999999991px" width="12" height="12" viewBox="0 0 12 12" ><path d="M0.8,0.8L11.2,11.2M11.2,0.8L0.8,11.2" stroke="#fff" stroke-width="1.35"/></svg><svg style="left:1343.3px;top:18.0px" width="16" height="16" viewBox="0 0 16 16" ><path d="M8,0V16M0,8H16" stroke="#999" stroke-width="1.3"/></svg><svg style="left:1453.2px;top:11.399999999999864px" width="25" height="28" viewBox="0 0 25 28" ><path d="M2.2,11.1C-0.8,14.8 -0.8,19.8 2.2,23.4C1.7,19.5 1.7,15 2.2,11.1Z" fill="#2eb23c"/><path d="M4.9,11.6L13.2,5.9C15.5,4.2 17,1.8 18,0.7C18.9,-0.3 20.2,0.3 20.7,1.6C21.2,3.6 19.8,6.6 18.1,9.3L23,10.5C24,10.8 24.6,11.5 24.4,12.4L20.4,25.4C20,26.5 19.4,27 18.4,26.9C14.5,26.7 9,26 6.2,24.4C5.3,23.9 4.9,23.6 4.9,23.2Z" fill="#2eb23c"/></svg><svg style="left:1568.8px;top:9.799999999999955px" width="30" height="30" viewBox="0 0 30 30" ><circle cx="15" cy="15" r="13.9" fill="none" stroke="#2a93d5" stroke-width="1.8"/><circle cx="15" cy="7.6" r="1.35" fill="#2a93d5"/><path d="M15,11.6V21.7" stroke="#2a93d5" stroke-width="1.9" stroke-linecap="round"/></svg><svg style="left:1613px;top:13.099999999999909px" width="26" height="28" viewBox="0 0 26 28" ><path d="M14,23.5H4A3.2,3.2 0 0 1 0.8,20.3V4A3.2,3.2 0 0 1 4,0.8H15.2L22.2,7.6V16" fill="none" stroke="#2a93d5" stroke-width="1.6" stroke-linecap="round" stroke-linejoin="round"/><path d="M15.2,0.8V5.8A1.8,1.8 0 0 0 17,7.6H22.2" fill="none" stroke="#2a93d5" stroke-width="1.4" stroke-linejoin="round"/><path d="M21.5,19.2V27M17.6,23.1H25.4" stroke="#2a93d5" stroke-width="1.6"/></svg><svg style="left:1657.8px;top:12.700000000000045px" width="21" height="25" viewBox="0 0 21 25" ><path d="M1.8,1.8L18.6,12.1L1.8,22.6Z" fill="#2a93d5" stroke="#2a93d5" stroke-width="3.4" stroke-linejoin="round"/></svg></div>
<div class="row" style="top:434.0px"><svg style="left:24px;top:13.899999999999864px" width="24" height="24" viewBox="0 0 24 24" ><path d="M5.6,2.7C7.5,2.7 9.3,4.8 8.8,6.5C8.5,8 6.3,8.6 6.6,9.8C7.5,12.5 10.5,15.5 13,17.2C14.2,17.8 15,15.2 16.8,15C18.8,14.8 20.8,16.2 20.6,17.7C20.2,20.5 18,22.3 15.4,22.2C12,22.1 9,20.5 6.8,18.4C4.5,16.2 2.7,14.5 1.9,12.5C1.2,10.8 0.7,9 0.9,7C1.1,4.8 3.2,2.7 5.6,2.7Z" fill="none" stroke="#2aae3a" stroke-width="1.55" stroke-linejoin="round"/><path d="M22.5,0.9L14.7,8.7M14.7,2.3V8.7H21" fill="none" stroke="#2aae3a" stroke-width="1.55"/></svg>
<span class="t lk" style="left:96.4px;top:16.8px;font-size:20px;transform:scaleX(0.9864);">Keyword Pool</span>
<span class="t" style="left:312.3px;top:16.8px;font-size:20px;transform:scaleX(0.9909);">Direct</span>
<span class="t" style="left:528.2px;top:16.8px;font-size:20px;transform:scaleX(0.9738);">Elva Schowalter</span>
<span class="t" style="left:727.8px;top:16.8px;font-size:20px;transform:scaleX(0.9403);">589-310-5994</span><i class="dot" style="left:851.2px;top:23.5px"></i>
<span class="t" style="left:912.6px;top:16.8px;font-size:20px;transform:scaleX(0.9087);">San Francisco, CA</span>
<span class="tag" style="left:1114.2px;top:12.1px;width:153.5px;background:#ff7b2b"></span>
<span class="t" style="left:1122.1px;top:17.1px;font-size:20px;transform:scaleX(1.0320);color:#fff;">Opportunity</span><svg style="left:1243.7px;top:20.59999999999991px" width="12" height="12" viewBox="0 0 12 12" ><path d="M0.8,0.8L11.2,11.2M11.2,0.8L0.8,11.2" stroke="#fff" stroke-width="1.35"/></svg><svg style="left:1283.2px;top:18.0px" width="16" height="16" viewBox="0 0 16 16" ><path d="M8,0V16M0,8H16" stroke="#999" stroke-width="1.3"/></svg><svg style="left:1568.8px;top:9.799999999999955px" width="30" height="30" viewBox="0 0 30 30" ><circle cx="15" cy="15" r="13.9" fill="none" stroke="#2a93d5" stroke-width="1.8"/><circle cx="15" cy="7.6" r="1.35" fill="#2a93d5"/><path d="M15,11.6V21.7" stroke="#2a93d5" stroke-width="1.9" stroke-linecap="round"/></svg><svg style="left:1613px;top:13.099999999999909px" width="26" height="28" viewBox="0 0 26 28" ><path d="M14,23.5H4A3.2,3.2 0 0 1 0.8,20.3V4A3.2,3.2 0 0 1 4,0.8H15.2L22.2,7.6V16" fill="none" stroke="#2a93d5" stroke-width="1.6" stroke-linecap="round" stroke-linejoin="round"/><path d="M15.2,0.8V5.8A1.8,1.8 0 0 0 17,7.6H22.2" fill="none" stroke="#2a93d5" stroke-width="1.4" stroke-linejoin="round"/><path d="M21.5,19.2V27M17.6,23.1H25.4" stroke="#2a93d5" stroke-width="1.6"/></svg><svg style="left:1657.8px;top:12.700000000000045px" width="21" height="25" viewBox="0 0 21 25" ><path d="M1.8,1.8L18.6,12.1L1.8,22.6Z" fill="#2a93d5" stroke="#2a93d5" stroke-width="3.4" stroke-linejoin="round"/></svg></div>
<div class="row" style="top:489.0px"><svg style="left:24px;top:13.899999999999864px" width="24" height="24" viewBox="0 0 24 24" ><path d="M5.6,2.7C7.5,2.7 9.3,4.8 8.8,6.5C8.5,8 6.3,8.6 6.6,9.8C7.5,12.5 10.5,15.5 13,17.2C14.2,17.8 15,15.2 16.8,15C18.8,14.8 20.8,16.2 20.6,17.7C20.2,20.5 18,22.3 15.4,22.2C12,22.1 9,20.5 6.8,18.4C4.5,16.2 2.7,14.5 1.9,12.5C1.2,10.8 0.7,9 0.9,7C1.1,4.8 3.2,2.7 5.6,2.7Z" fill="none" stroke="#2aae3a" stroke-width="1.55" stroke-linejoin="round"/><path d="M22.5,0.9L14.7,8.7M14.7,2.3V8.7H21" fill="none" stroke="#2aae3a" stroke-width="1.55"/></svg>
<span class="t lk" style="left:96.4px;top:16.8px;font-size:20px;transform:scaleX(0.9864);">Keyword Pool</span>
<span class="t" style="left:312.3px;top:16.8px;font-size:20px;transform:scaleX(0.9585);">Google Organic</span>
<span class="t" style="left:528.2px;top:16.8px;font-size:20px;transform:scaleX(0.9557);">Kian Prohaska</span>
<span class="t" style="left:727.8px;top:16.8px;font-size:20px;transform:scaleX(0.9403);">589-765-7837</span><i class="dot" style="left:851.2px;top:23.5px"></i>
<span class="t" style="left:911.7px;top:16.8px;font-size:20px;transform:scaleX(0.9405);">Chicago, IL</span>
<span class="tag" style="left:1114.2px;top:12.1px;width:213.6px;background:#b794f6"></span>
<span class="t" style="left:1121.1px;top:17.1px;font-size:20px;transform:scaleX(0.9787);color:#fff;">Meeting Scheduled</span><svg style="left:1303.8px;top:20.59999999999991px" width="12" height="12" viewBox="0 0 12 12" ><path d="M0.8,0.8L11.2,11.2M11.2,0.8L0.8,11.2" stroke="#fff" stroke-width="1.35"/></svg><svg style="left:1343.3px;top:18.0px" width="16" height="16" viewBox="0 0 16 16" ><path d="M8,0V16M0,8H16" stroke="#999" stroke-width="1.3"/></svg><svg style="left:1453.2px;top:11.399999999999864px" width="25" height="28" viewBox="0 0 25 28" ><path d="M2.2,11.1C-0.8,14.8 -0.8,19.8 2.2,23.4C1.7,19.5 1.7,15 2.2,11.1Z" fill="#2eb23c"/><path d="M4.9,11.6L13.2,5.9C15.5,4.2 17,1.8 18,0.7C18.9,-0.3 20.2,0.3 20.7,1.6C21.2,3.6 19.8,6.6 18.1,9.3L23,10.5C24,10.8 24.6,11.5 24.4,12.4L20.4,25.4C20,26.5 19.4,27 18.4,26.9C14.5,26.7 9,26 6.2,24.4C5.3,23.9 4.9,23.6 4.9,23.2Z" fill="#2eb23c"/></svg><svg style="left:1568.8px;top:9.799999999999955px" width="30" height="30" viewBox="0 0 30 30" ><circle cx="15" cy="15" r="13.9" fill="none" stroke="#2a93d5" stroke-width="1.8"/><circle cx="15" cy="7.6" r="1.35" fill="#2a93d5"/><path d="M15,11.6V21.7" stroke="#2a93d5" stroke-width="1.9" stroke-linecap="round"/></svg><svg style="left:1613px;top:13.099999999999909px" width="26" height="28" viewBox="0 0 26 28" ><path d="M14,23.5H4A3.2,3.2 0 0 1 0.8,20.3V4A3.2,3.2 0 0 1 4,0.8H15.2L22.2,7.6V16" fill="none" stroke="#2a93d5" stroke-width="1.6" stroke-linecap="round" stroke-linejoin="round"/><path d="M15.2,0.8V5.8A1.8,1.8 0 0 0 17,7.6H22.2" fill="none" stroke="#2a93d5" stroke-width="1.4" stroke-linejoin="round"/><path d="M21.5,19.2V27M17.6,23.1H25.4" stroke="#2a93d5" stroke-width="1.6"/></svg><svg style="left:1657.8px;top:12.700000000000045px" width="21" height="25" viewBox="0 0 21 25" ><path d="M1.8,1.8L18.6,12.1L1.8,22.6Z" fill="#2a93d5" stroke="#2a93d5" stroke-width="3.4" stroke-linejoin="round"/></svg></div>
<div class="row" style="top:544.0px"><svg style="left:24px;top:13.899999999999864px" width="24" height="24" viewBox="0 0 24 24" ><path d="M5.6,2.7C7.5,2.7 9.3,4.8 8.8,6.5C8.5,8 6.3,8.6 6.6,9.8C7.5,12.5 10.5,15.5 13,17.2C14.2,17.8 15,15.2 16.8,15C18.8,14.8 20.8,16.2 20.6,17.7C20.2,20.5 18,22.3 15.4,22.2C12,22.1 9,20.5 6.8,18.4C4.5,16.2 2.7,14.5 1.9,12.5C1.2,10.8 0.7,9 0.9,7C1.1,4.8 3.2,2.7 5.6,2.7Z" fill="none" stroke="#2aae3a" stroke-width="1.55" stroke-linejoin="round"/><path d="M22.5,0.9L14.7,8.7M14.7,2.3V8.7H21" fill="none" stroke="#2aae3a" stroke-width="1.55"/></svg>
<span class="t lk" style="left:96.4px;top:16.8px;font-size:20px;transform:scaleX(0.9636);">Direct Mail 2</span>
<span class="t" style="left:312.3px;top:16.8px;font-size:20px;transform:scaleX(0.9636);">Direct Mail 2</span>
<span class="t" style="left:528.2px;top:16.8px;font-size:20px;transform:scaleX(0.9771);">Danial Collins</span>
<span class="t" style="left:727.8px;top:16.8px;font-size:20px;transform:scaleX(0.9403);">318-705-1477</span><i class="dot" style="left:851.2px;top:23.5px"></i>
<span class="t" style="left:911.6px;top:16.8px;font-size:20px;transform:scaleX(0.9679);">Portland, OR</span>
<span class="tag" style="left:1114.2px;top:12.1px;width:153.5px;background:#ff7b2b"></span>
<span class="t" style="left:1122.1px;top:17.1px;font-size:20px;transform:scaleX(1.0320);color:#fff;">Opportunity</span><svg style="left:1243.7px;top:20.59999999999991px" width="12" height="12" viewBox="0 0 12 12" ><path d="M0.8,0.8L11.2,11.2M11.2,0.8L0.8,11.2" stroke="#fff" stroke-width="1.35"/></svg><svg style="left:1283.2px;top:18.0px" width="16" height="16" viewBox="0 0 16 16" ><path d="M8,0V16M0,8H16" stroke="#999" stroke-width="1.3"/></svg><svg style="left:1453.2px;top:11.399999999999864px" width="25" height="28" viewBox="0 0 25 28" ><path d="M2.2,11.1C-0.8,14.8 -0.8,19.8 2.2,23.4C1.7,19.5 1.7,15 2.2,11.1Z" fill="#2eb23c"/><path d="M4.9,11.6L13.2,5.9C15.5,4.2 17,1.8 18,0.7C18.9,-0.3 20.2,0.3 20.7,1.6C21.2,3.6 19.8,6.6 18.1,9.3L23,10.5C24,10.8 24.6,11.5 24.4,12.4L20.4,25.4C20,26.5 19.4,27 18.4,26.9C14.5,26.7 9,26 6.2,24.4C5.3,23.9 4.9,23.6 4.9,23.2Z" fill="#2eb23c"/></svg><svg style="left:1568.8px;top:9.799999999999955px" width="30" height="30" viewBox="0 0 30 30" ><circle cx="15" cy="15" r="13.9" fill="none" stroke="#2a93d5" stroke-width="1.8"/><circle cx="15" cy="7.6" r="1.35" fill="#2a93d5"/><path d="M15,11.6V21.7" stroke="#2a93d5" stroke-width="1.9" stroke-linecap="round"/></svg><svg style="left:1613px;top:13.099999999999909px" width="26" height="28" viewBox="0 0 26 28" ><path d="M14,23.5H4A3.2,3.2 0 0 1 0.8,20.3V4A3.2,3.2 0 0 1 4,0.8H15.2L22.2,7.6V16" fill="none" stroke="#2a93d5" stroke-width="1.6" stroke-linecap="round" stroke-linejoin="round"/><path d="M15.2,0.8V5.8A1.8,1.8 0 0 0 17,7.6H22.2" fill="none" stroke="#2a93d5" stroke-width="1.4" stroke-linejoin="round"/><path d="M21.5,19.2V27M17.6,23.1H25.4" stroke="#2a93d5" stroke-width="1.6"/></svg><svg style="left:1657.8px;top:12.700000000000045px" width="21" height="25" viewBox="0 0 21 25" ><path d="M1.8,1.8L18.6,12.1L1.8,22.6Z" fill="#2a93d5" stroke="#2a93d5" stroke-width="3.4" stroke-linejoin="round"/></svg></div>
<div class="row" style="top:599.0px;height:10px"></div></section></main>
</body></html>
